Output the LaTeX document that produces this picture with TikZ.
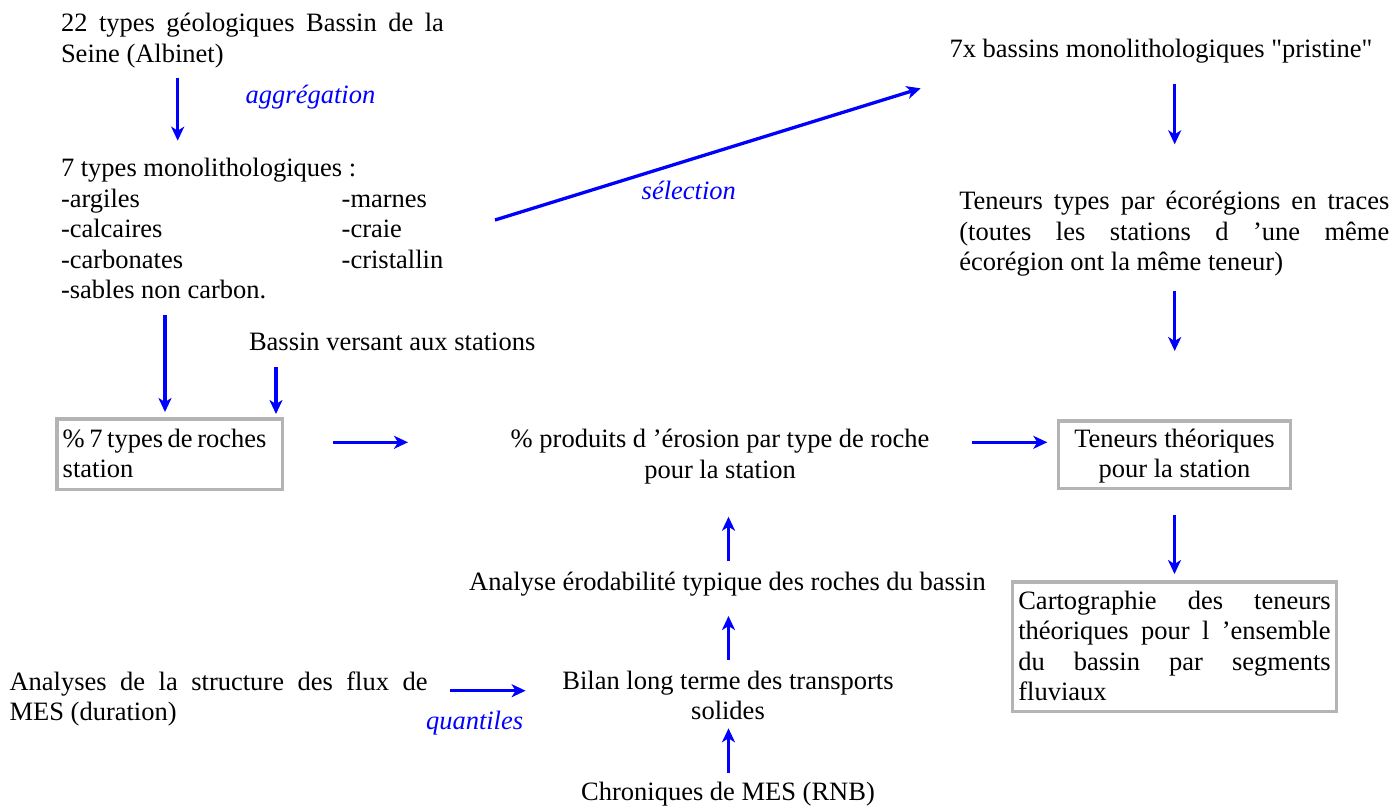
\documentclass[tikz,border=0pt]{standalone}
\usepackage{fontspec}
\setmainfont{Liberation Serif}[Ligatures=TeXOff]
\usetikzlibrary{arrows.meta}
\definecolor{flowblue}{RGB}{0,0,255}
\definecolor{framegray}{RGB}{180,180,180}
\hyphenpenalty=10000
\exhyphenpenalty=10000
\hbadness=10000
\hfuzz=20pt
\begin{document}
\begin{tikzpicture}[x=1pt, y=-1pt,
  every node/.style={inner sep=0pt, outer sep=0pt},
  txt/.style={font=\fontsize{26.5}{30.5}\selectfont},
  para/.style={txt, anchor=north west, align=justify},
  note/.style={font=\fontsize{26.5}{30.5}\selectfont\itshape, text=flowblue, anchor=base west},
  framed/.style={txt, draw=framegray, line width=3.5pt, anchor=north west},
  flow/.style={draw=flowblue, line width=3.3pt, -{Stealth[length=14pt,width=13pt,inset=4pt]}},
]
\useasboundingbox (0,0) rectangle (1393,807);

% left column: geology
\node[para, text width=383pt] (geol) at (61,10.35)
  {\noindent\strut 22 types géologiques Bassin de la\linebreak Seine (Albinet)};
\node[note] (agg) at (245.7,103) {aggrégation};
\node[txt, anchor=north west, align=left] (lith) at (61,155.45)
  {\strut 7 types monolithologiques :\\
   \makebox[280.7pt][l]{-argiles}-marnes\\
   \makebox[280.7pt][l]{-calcaires}-craie\\
   \makebox[280.7pt][l]{-carbonates}-cristallin\\
   -sables non carbon.};
\node[txt, anchor=base west] (bv) at (249,350) {Bassin versant aux stations};
\node[framed, minimum width=225.8pt, minimum height=70.2pt, text width=213.9pt,
      inner xsep=5.95pt, align=left] (roch) at (56.75,419.05)
  {\strut\mbox{\spaceskip=4.6pt \% 7 types de roches}\\station\rule[-5pt]{0pt}{5pt}};

% right column: reference basins
\node[txt, anchor=base] (prist) at (1161,57.3) {7x bassins monolithologiques "pristine"};
\node[para, text width=430pt] (typ) at (959.3,188.15)
  {\noindent\strut Teneurs types par écorégions en traces\linebreak
   (toutes les stations d ’une même\linebreak écorégion ont la même teneur)};
\node[framed, minimum width=232.1pt, minimum height=67.5pt, align=center] (tth) at (1058.45,420.75)
  {\strut Teneurs théoriques\\pour la station\rule[-5pt]{0pt}{5pt}};
\node[framed, text width=312.4pt, inner xsep=5.85pt, minimum height=129.8pt,
      align=justify] (carto) at (1012.45,581.75)
  {\noindent\strut Cartographie des teneurs\linebreak théoriques pour l ’ensemble\linebreak
   du bassin par segments\linebreak fluviaux\rule[-5pt]{0pt}{5pt}};

% central column: erosion
\node[txt, anchor=north, align=center] (eros) at (720.1,426.35)
  {\strut\% produits d ’érosion par type de roche\\pour la station};
\node[txt, anchor=base] (erod) at (727.5,590) {Analyse érodabilité typique des roches du bassin};
\node[txt, anchor=north, align=center] (bilan) at (728,667.95)
  {\strut Bilan long terme des transports\\solides};
\node[txt, anchor=base] (chron) at (728,800) {Chroniques de MES (RNB)};
\node[para, text width=418pt] (flux) at (9.6,668.65)
  {\noindent\strut Analyses de la structure des flux de\linebreak MES (duration)};
\node[note] (quant) at (426,729.3) {quantiles};
\node[note] (sel) at (641.7,199) {sélection};

% arrow end points
\coordinate (geolOut)  at (177.7,77.7);   \coordinate (lithIn)   at (177.7,140.7);
\coordinate (lithOut)  at (165,315);      \coordinate (rochInA)  at (165,412);
\coordinate (bvOut)    at (276,366.7);    \coordinate (rochInB)  at (276,414);
\coordinate (rochOut)  at (333,442.3);    \coordinate (erosIn)   at (408,442.3);
\coordinate (erosOut)  at (972.3,442.3);  \coordinate (tthIn)    at (1047.3,442.3);
\coordinate (selOut)   at (495,220);      \coordinate (pristIn)  at (920.7,88.3);
\coordinate (pristOut) at (1174.7,84.3);  \coordinate (typIn)    at (1174.7,144.3);
\coordinate (typOut)   at (1174.7,291);   \coordinate (tthTop)   at (1174.7,351);
\coordinate (erodOut)  at (728.5,561);    \coordinate (erosBot)  at (728.5,516.7);
\coordinate (bilanOut) at (728.5,660);    \coordinate (erodIn)   at (728.5,616);
\coordinate (chronOut) at (728.5,772.7);  \coordinate (bilanIn)  at (728.5,728.3);
\coordinate (fluxOut)  at (450,690.7);    \coordinate (bilanLeft) at (525.6,690.7);

% connectors
\draw[flow] (geolOut) -- (lithIn);
\draw[flow] (lithOut) -- (rochInA);
\draw[flow] (bvOut) -- (rochInB);
\draw[flow] (rochOut) -- (erosIn);
\draw[flow] (erosOut) -- (tthIn);
\draw[flow] (selOut) -- (pristIn);
\draw[flow] (pristOut) -- (typIn);
\draw[flow] (typOut) -- (tthTop);
\draw[flow] ([yshift=-26.75pt]tth.south) -- ([yshift=7.75pt]carto.north);
\draw[flow] (erodOut) -- (erosBot);
\draw[flow] (bilanOut) -- (erodIn);
\draw[flow] (chronOut) -- (bilanIn);
\draw[flow] (fluxOut) -- (bilanLeft);
\end{tikzpicture}
\end{document}
